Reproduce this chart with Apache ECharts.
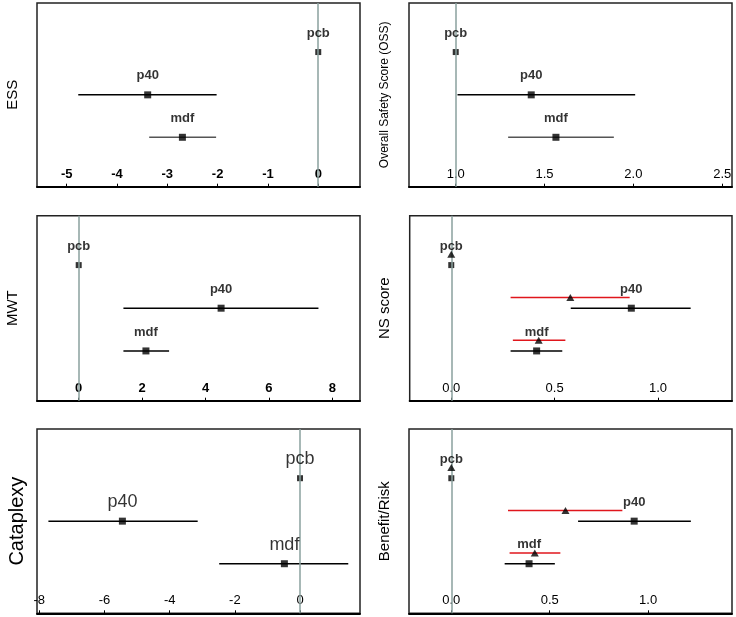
<!DOCTYPE html>
<html>
<head>
<meta charset="utf-8">
<script src="https://cdn.jsdelivr.net/npm/echarts@6/dist/echarts.min.js"></script>
<style>
html,body{margin:0;padding:0;background:#fff;}
#chart{width:736px;height:617px;}
</style>
</head>
<body>
<div id="chart"></div>
<script>
// ---- data ----
const groups = ['pcb', 'p40', 'mdf'];

// ESS
const essEst = [0, -3.39, -2.70];
const essLo  = [null, -4.77, -3.36];
const essHi  = [null, -2.02, -2.03];
const essTicks = [-5, -4, -3, -2, -1, 0];

// Overall Safety Score (OSS)
const ossEst = [1.0, 1.425, 1.564];
const ossLo  = [null, 1.01, 1.295];
const ossHi  = [null, 2.01, 1.89];
const ossTicks = [1.0, 1.5, 2.0, 2.5];

// MWT
const mwtEst = [0, 4.49, 2.12];
const mwtLo  = [null, 1.41, 1.41];
const mwtHi  = [null, 7.56, 2.85];
const mwtTicks = [0, 2, 4, 6, 8];

// NS score (black = squares, red = triangles)
const nsEst  = [0, 0.871, 0.413];
const nsLo   = [null, 0.578, 0.287];
const nsHi   = [null, 1.158, 0.537];
const nsEst2 = [0, 0.576, 0.423];
const nsLo2  = [null, 0.287, 0.298];
const nsHi2  = [null, 0.863, 0.552];
const nsTicks = [0, 0.5, 1.0];

// Cataplexy
const catEst = [0, -5.45, -0.48];
const catLo  = [null, -7.72, -2.48];
const catHi  = [null, -3.14, 1.48];
const catTicks = [-8, -6, -4, -2, 0];

// Benefit/Risk
const brEst  = [0, 0.929, 0.395];
const brLo   = [null, 0.644, 0.271];
const brHi   = [null, 1.217, 0.526];
const brEst2 = [0, 0.580, 0.424];
const brLo2  = [null, 0.288, 0.296];
const brHi2  = [null, 0.869, 0.554];
const brTicks = [0, 0.5, 1.0];

// ---- layout ----
const FONT = "'Liberation Sans', Arial, Helvetica, sans-serif";
const rowPos = [0.267, 0.5, 0.731];
const redShift = -0.058;
const REF = '#8aa19e';

const panels = [
  {name: 'ESS', nameSize: 15, nameGap: 17, grid: {left: 37, top: 3, width: 323, height: 183.7},
   min: -5.59, max: 0.83, ticks: essTicks, dec: 0, ref: 0, tickBold: true,
   est: essEst, lo: essLo, hi: essHi, barColors: ['#000', '#000', '#555'], labelSize: 13, labelBold: true},
  {name: 'Overall Safety Score (OSS)', nameSize: 12, nameGap: 18, grid: {left: 409, top: 3, width: 323, height: 183.7},
   min: 0.737, max: 2.555, ticks: ossTicks, dec: 1, ref: 1.0, tickBold: false,
   est: ossEst, lo: ossLo, hi: ossHi, barColors: ['#000', '#000', '#555'], labelSize: 13, labelBold: true},
  {name: 'MWT', nameSize: 15, nameGap: 17, grid: {left: 37, top: 215.7, width: 323, height: 185},
   min: -1.315, max: 8.87, ticks: mwtTicks, dec: 0, ref: 0, tickBold: true,
   est: mwtEst, lo: mwtLo, hi: mwtHi, barColors: ['#000', '#000', '#000'], labelSize: 13, labelBold: true},
  {name: 'NS score', nameSize: 15, nameGap: 17, grid: {left: 409.7, top: 215.7, width: 322.3, height: 185},
   min: -0.201, max: 1.358, ticks: nsTicks, dec: 1, ref: 0, tickBold: false,
   est: nsEst, lo: nsLo, hi: nsHi, barColors: ['#000', '#000', '#000'], labelSize: 13, labelBold: true,
   est2: nsEst2, lo2: nsLo2, hi2: nsHi2},
  {name: 'Cataplexy', nameSize: 20, nameGap: 10, grid: {left: 37, top: 429, width: 323, height: 184.3},
   min: -8.07, max: 1.84, ticks: catTicks, dec: 0, ref: 0, tickBold: false,
   est: catEst, lo: catLo, hi: catHi, barColors: ['#000', '#000', '#000'], labelSize: 18, labelBold: false},
  {name: 'Benefit/Risk', nameSize: 15, nameGap: 17, grid: {left: 409, top: 429, width: 323, height: 184.3},
   min: -0.215, max: 1.426, ticks: brTicks, dec: 1, ref: 0, tickBold: false,
   est: brEst, lo: brLo, hi: brHi, barColors: ['#000', '#000', '#000'], labelSize: 13, labelBold: true,
   est2: brEst2, lo2: brLo2, hi2: brHi2}
];

const grids = [], xAxes = [], yAxes = [], series = [];

function barSeries(i, lo, hi, shift, colors) {
  const data = [];
  for (let k = 0; k < groups.length; k++) {
    if (lo[k] == null) continue;
    data.push({value: [lo[k], hi[k], rowPos[k] + shift], itemStyle: {color: colors[k]}});
  }
  return {
    type: 'custom', xAxisIndex: i, yAxisIndex: i, silent: true, z: 3,
    encode: {x: [0, 1], y: 2},
    data: data,
    renderItem: function (params, api) {
      const a = api.coord([api.value(0), api.value(2)]);
      const b = api.coord([api.value(1), api.value(2)]);
      return {type: 'line', shape: {x1: a[0], y1: a[1], x2: b[0], y2: b[1]},
        style: {stroke: api.visual('color'), lineWidth: 1.5}};
    }
  };
}

panels.forEach((p, i) => {
  grids.push(Object.assign({show: true, borderColor: '#222', borderWidth: 1.5, backgroundColor: 'transparent'}, p.grid));
  xAxes.push({
    type: 'value', gridIndex: i, min: p.min, max: p.max, position: 'bottom',
    axisLine: {show: true, onZero: false, lineStyle: {color: '#000', width: 2}},
    axisTick: {show: true, inside: true, length: 3, lineStyle: {color: '#000', width: 1}, customValues: p.ticks},
    axisLabel: {show: true, inside: true, margin: 6, color: '#000', fontSize: 13, fontFamily: FONT,
      fontWeight: p.tickBold ? 'bold' : 'normal',
      customValues: p.ticks, formatter: v => Number(v).toFixed(p.dec)},
    splitLine: {show: false}
  });
  yAxes.push({
    type: 'value', gridIndex: i, min: 0, max: 1, inverse: true,
    axisLine: {show: false}, axisTick: {show: false}, axisLabel: {show: false}, splitLine: {show: false},
    name: p.name, nameLocation: 'middle', nameRotate: 90, nameGap: p.nameGap,
    nameTextStyle: {color: '#000', fontSize: p.nameSize, fontFamily: FONT}
  });
  // error bars
  if (p.lo2) series.push(barSeries(i, p.lo2, p.hi2, redShift, ['#e0161c', '#e0161c', '#e0161c']));
  series.push(barSeries(i, p.lo, p.hi, 0, p.barColors));
  // triangles
  if (p.est2) {
    series.push({
      type: 'scatter', xAxisIndex: i, yAxisIndex: i, symbol: 'triangle', symbolSize: [8, 7], z: 6,
      itemStyle: {color: '#000'},
      data: p.est2.map((v, k) => [v, rowPos[k] + redShift])
    });
  }
  // squares with ref line
  series.push({
    type: 'scatter', xAxisIndex: i, yAxisIndex: i, symbol: 'rect', z: 4,
    itemStyle: {color: '#000'},
    data: p.est.map((v, k) => ({value: [v, rowPos[k]], symbolSize: k === 0 ? 6 : 7})),
    markLine: {
      silent: true, symbol: ['none', 'none'], label: {show: false}, z: 5,
      lineStyle: {color: REF, width: 1.5, type: 'solid'},
      data: [{xAxis: p.ref}]
    }
  });
  // group labels
  series.push({
    type: 'scatter', xAxisIndex: i, yAxisIndex: i, symbolSize: 1, z: 7,
    itemStyle: {color: 'rgba(0,0,0,0)'},
    label: {show: true, position: 'inside', offset: [0, -19], color: '#000',
      fontSize: p.labelSize, fontWeight: p.labelBold ? 'bold' : 'normal', fontFamily: FONT,
      formatter: d => groups[d.dataIndex]},
    data: p.est.map((v, k) => [v, rowPos[k]])
  });
});

const chart = echarts.init(document.getElementById('chart'), null, {renderer: 'canvas'});
chart.setOption({
  animation: false,
  backgroundColor: '#fff',
  grid: grids, xAxis: xAxes, yAxis: yAxes, series: series
});
</script>
</body>
</html>
